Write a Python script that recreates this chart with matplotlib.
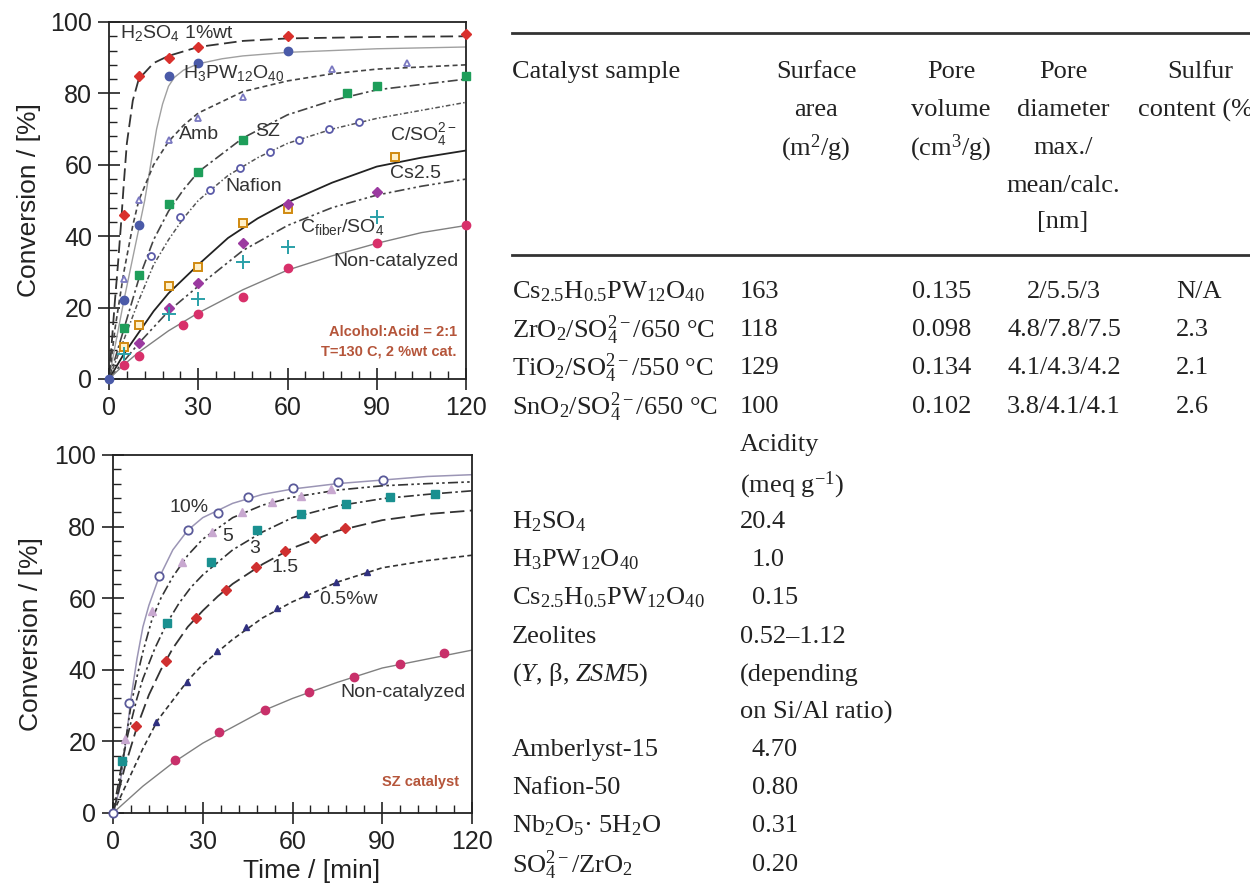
import matplotlib
matplotlib.use("Agg")
import matplotlib.pyplot as plt
from matplotlib.ticker import MultipleLocator
from matplotlib.lines import Line2D

plt.rcParams['font.family'] = ['Liberation Sans', 'DejaVu Sans']
plt.rcParams['mathtext.fontset'] = 'custom'
plt.rcParams['mathtext.rm'] = 'Liberation Serif'
plt.rcParams['mathtext.it'] = 'Liberation Serif:italic'
plt.rcParams['mathtext.default'] = 'regular'

# ---- top panel: catalyst comparison (markers = measured, curves = fits) ----
h2so4_t = [5, 10, 20, 30, 60, 120]
h2so4_y = [46, 85, 90, 93, 96, 96.5]
h2so4_fit_t = [0, 2, 3, 4, 5, 6, 8, 10, 15, 20, 30, 45, 60, 90, 120]
h2so4_fit_y = [0, 22, 32, 43, 55, 66, 78, 84, 88.5, 90.5, 93, 94.7, 95.4, 95.8, 96]

hpw_t = [0, 5, 10, 20, 30, 60]
hpw_y = [0, 22, 43, 85, 88.5, 92]
hpw_fit_t = [0, 2, 5, 8, 10, 12, 14, 16, 18, 20, 22, 25, 30, 38, 45, 60, 90, 120]
hpw_fit_y = [0, 9, 22, 34, 42, 50, 60, 70, 77, 82, 84.5, 86.5, 88.3, 89.7, 90.5, 91.5, 92.5, 93]

amb_t = [5, 10, 20, 30, 45, 75, 100]
amb_y = [28, 50, 67, 73, 79, 86.7, 88.6]
amb_fit_t = [0, 2, 5, 8, 10, 15, 20, 25, 30, 45, 60, 75, 90, 120]
amb_fit_y = [0, 14, 30, 43, 50, 60, 66.5, 71, 74.5, 80.5, 83.5, 85.5, 86.8, 88]

sz_t = [5, 10, 20, 30, 45, 80, 90, 120]
sz_y = [14.3, 29, 49, 58, 67, 80, 82, 85]
sz_fit_t = [0, 5, 10, 15, 20, 25, 30, 45, 60, 75, 90, 120]
sz_fit_y = [0, 14, 28, 39, 47, 53, 58, 67.5, 74, 78, 81, 84]

nafion_t = [14, 24, 34, 44, 54, 64, 74, 84]
nafion_y = [34.5, 45.4, 53, 59, 63.5, 67, 70, 72]
nafion_fit_t = [0, 5, 10, 15, 20, 25, 30, 40, 50, 60, 75, 90, 120]
nafion_fit_y = [0, 11, 22, 32, 39, 45, 50, 57, 62, 66, 70, 73, 77.5]

cso4_t = [5, 10, 20, 30, 45, 60, 96]
cso4_y = [9, 15, 26, 31.5, 43.7, 47.5, 62.3]
cso4_fit_t = [0, 5, 10, 15, 20, 30, 40, 50, 60, 75, 90, 105, 120]
cso4_fit_y = [0, 7, 13, 19, 24, 32, 39.5, 45, 49.5, 55, 59.5, 62, 64]

cs25_t = [10, 20, 30, 45, 60, 90]
cs25_y = [10, 20, 27, 38, 49, 52.5]
cs25_fit_t = [0, 5, 10, 15, 20, 30, 45, 60, 75, 90, 105, 120]
cs25_fit_y = [0, 5, 10, 14.5, 19, 26, 36, 43, 48, 51.5, 54, 56]

cfiber_t = [5, 20, 30, 45, 60, 90]
cfiber_y = [7, 18.2, 22.4, 32.8, 37, 45.5]

noncat_t = [5, 10, 25, 30, 45, 60, 90, 120]
noncat_y = [3.9, 6.5, 15, 18.3, 23, 31, 38.2, 43.2]
noncat_fit_t = [0, 5, 10, 20, 30, 45, 60, 75, 90, 105, 120]
noncat_fit_y = [0, 4, 7.5, 13.5, 18.5, 25, 30.5, 34.5, 38, 41, 43]

# ---- bottom panel: SZ loading ----
sz10_t = [0, 5.4, 15.4, 25, 35, 45, 60, 75.3, 90.2]
sz10_y = [0, 30.6, 66.2, 79, 83.8, 88.4, 90.8, 92.4, 92.9]
sz10_fit_t = [0, 2, 4, 6, 8, 10, 12, 15, 20, 25, 30, 40, 50, 60, 75, 90, 105, 120]
sz10_fit_y = [0, 6, 18, 32, 43, 52, 58, 65, 73.5, 79, 82.5, 86.5, 89, 90.5, 92, 93, 94, 94.5]

sz5_t = [3.9, 13.2, 22.9, 33, 43, 53, 63, 73]
sz5_y = [20.8, 56.3, 70.2, 78.6, 84.2, 87, 88.6, 90.5]
sz5_fit_t = [0, 2, 4, 6, 8, 10, 13, 16, 20, 25, 30, 40, 50, 60, 75, 90, 105, 120]
sz5_fit_y = [0, 7, 19, 30, 38, 45, 54, 60, 66, 72, 76.5, 82.5, 86, 88.2, 90.2, 91.4, 92, 92.5]

sz3_t = [3.1, 17.9, 32.6, 48, 63, 78, 92.6, 107.7]
sz3_y = [14.5, 53.2, 70, 79, 83.6, 86.4, 88.2, 89.2]
sz3_fit_t = [0, 3, 5, 8, 10, 14, 18, 22, 26, 30, 35, 40, 50, 60, 75, 90, 105, 120]
sz3_fit_y = [0, 14, 22, 32, 37.5, 46, 53, 58.5, 63, 66.5, 70, 73.5, 78.5, 82.5, 85.8, 87.8, 89, 90]

sz15_t = [7.6, 17.6, 27.6, 37.7, 47.8, 57.5, 67.5, 77.6]
sz15_y = [24.3, 42.5, 54.4, 62.3, 68.7, 73.3, 76.8, 79.6]
sz15_fit_t = [0, 4, 8, 12, 16, 20, 25, 30, 35, 40, 50, 60, 75, 90, 105, 120]
sz15_fit_y = [0, 13, 24, 33, 40, 46, 52, 56.5, 60.5, 64, 69.5, 74, 78.8, 81.8, 83.5, 84.5]

sz05_t = [14.5, 24.6, 34.6, 44.6, 54.7, 64.5, 74.6, 84.8]
sz05_y = [25.5, 36.7, 45.3, 51.9, 57.2, 61.2, 64.4, 67.2]
sz05_fit_t = [0, 5, 10, 15, 20, 25, 30, 40, 50, 60, 75, 90, 105, 120]
sz05_fit_y = [0, 9, 18, 26, 31.5, 37, 41.5, 48.5, 54.5, 59, 64.5, 68.5, 70.5, 72]

nc2_t = [20.6, 35.5, 50.8, 65.6, 80.7, 95.8, 110.5]
nc2_y = [14.7, 22.5, 28.7, 33.9, 37.9, 41.6, 44.6]
nc2_fit_t = [0, 10, 20, 30, 40, 50, 60, 75, 90, 105, 120]
nc2_fit_y = [0, 7.5, 14, 19.5, 24, 28.5, 32, 36.5, 40.5, 43, 45.5]

# ---- table ----
head_cols = [["Surface", "area", "(m$^2$/g)"],
             ["Pore", "volume", "(cm$^3$/g)"],
             ["Pore", "diameter", "max./", "mean/calc.", "[nm]"],
             ["Sulfur", "content (%)"]]
samples = ["Cs$_{2.5}$H$_{0.5}$PW$_{12}$O$_{40}$", "ZrO$_2$/SO$_4^{2-}$/650 °C",
           "TiO$_2$/SO$_4^{2-}$/550 °C", "SnO$_2$/SO$_4^{2-}$/650 °C"]
surface = ["163", "118", "129", "100"]
pore_vol = ["0.135", "0.098", "0.134", "0.102"]
pore_diam = ["2/5.5/3", "4.8/7.8/7.5", "4.1/4.3/4.2", "3.8/4.1/4.1"]
sulfur = ["N/A", "2.3", "2.1", "2.6"]

acid_names = ["H$_2$SO$_4$", "H$_3$PW$_{12}$O$_{40}$", "Cs$_{2.5}$H$_{0.5}$PW$_{12}$O$_{40}$",
              "Zeolites", "($\\mathit{Y}$, β, $\\mathit{ZSM5}$)", "",
              "Amberlyst-15", "Nafion-50", "Nb$_2$O$_5$· 5H$_2$O", "SO$_4^{2-}$/ZrO$_2$"]
acid_vals = ["20.4", "1.0", "0.15", "0.52–1.12", "(depending", "on Si/Al ratio)",
             "4.70", "0.80", "0.31", "0.20"]

W, H = 1250, 894
fig = plt.figure(figsize=(12.5, 8.94), dpi=100)
fig.patch.set_facecolor('white')


def px(x, y):
    return x / W, 1 - y / H


def style_axes(ax):
    ax.set_xlim(0, 120)
    ax.set_ylim(0, 100)
    ax.xaxis.set_major_locator(MultipleLocator(30))
    ax.xaxis.set_minor_locator(MultipleLocator(6))
    ax.yaxis.set_major_locator(MultipleLocator(20))
    ax.yaxis.set_minor_locator(MultipleLocator(4))
    ax.tick_params(which='major', direction='inout', length=16, width=1.2,
                   labelsize=18, pad=4, colors='#222')
    ax.tick_params(which='minor', direction='in', length=6, width=1.0, colors='#222')
    ax.tick_params(which='both', top=False, right=False)
    for sp in ax.spines.values():
        sp.set_linewidth(1.3)
        sp.set_color('#222')
    ax.set_ylabel("Conversion / [%]", fontsize=19, color='#222')


def pts(ax, t, y, marker, color, filled=True, ms=6):
    face = color if filled else 'white'
    ax.plot(t, y, linestyle='none', marker=marker, ms=ms, mfc=face, mec=color,
            mew=1.0 if filled else 1.3, zorder=3, clip_on=False)


# top panel
ax1 = fig.add_axes([109 / W, 1 - 379 / H, 357 / W, 357 / H])
style_axes(ax1)
ax1.yaxis.set_label_coords(-0.19, 0.5)

ax1.plot(h2so4_fit_t, h2so4_fit_y, color='#333', lw=1.3, dashes=(7, 3))
ax1.plot(hpw_fit_t, hpw_fit_y, color='#a0a0a0', lw=1.0)
ax1.plot(amb_fit_t, amb_fit_y, color='#444', lw=1.2, dashes=(3, 2))
ax1.plot(sz_fit_t, sz_fit_y, color='#444', lw=1.2, dashes=(6, 2, 1.5, 2))
ax1.plot(nafion_fit_t, nafion_fit_y, color='#555', lw=1.1, dashes=(3, 1.5, 1, 1.5))
ax1.plot(cso4_fit_t, cso4_fit_y, color='#222', lw=1.3)
ax1.plot(cs25_fit_t, cs25_fit_y, color='#444', lw=1.2, dashes=(6, 2, 1.5, 2, 1.5, 2))
ax1.plot(noncat_fit_t, noncat_fit_y, color='#808080', lw=1.0)

pts(ax1, h2so4_t, h2so4_y, 'D', '#d9302c', ms=5)
pts(ax1, hpw_t, hpw_y, 'o', '#4a5aa8', ms=6)
pts(ax1, amb_t, amb_y, '^', '#7a78c0', filled=False, ms=5)
pts(ax1, sz_t, sz_y, 's', '#1e9e5a', ms=6)
pts(ax1, nafion_t, nafion_y, 'o', '#5a5aa8', filled=False, ms=5)
ax1.plot(cso4_t, cso4_y, linestyle='none', marker='s', ms=6, mfc='#fff0c8',
         mec='#d08a10', mew=1.4, zorder=3, clip_on=False)
pts(ax1, cs25_t, cs25_y, 'D', '#9b3aa0', ms=5)
ax1.plot(cfiber_t, cfiber_y, linestyle='none', marker='+', ms=10, mec='#2aa0a8',
         mew=1.4, zorder=3)
pts(ax1, noncat_t, noncat_y, 'o', '#d8306a', ms=6)

lab = dict(fontsize=14, color='#333', va='center', ha='left')
ax1.text(3.8, 96.8, "H$_2$SO$_4$ 1%wt", **lab)
ax1.text(25, 85.6, "H$_3$PW$_{12}$O$_{40}$", **lab)
ax1.text(23.4, 68.4, "Amb", **lab)
ax1.text(49.2, 69.3, "SZ", **lab)
ax1.text(94.3, 68.5, "C/SO$_4^{2-}$", **lab)
ax1.text(39, 53.9, "Nafion", **lab)
ax1.text(94.5, 57.6, "Cs2.5", **lab)
ax1.text(64.3, 42.7, "C$_{fiber}$/SO$_4$", **lab)
ax1.text(75.5, 32.9, "Non-catalyzed", **lab)
note = dict(fontsize=10.5, color='#b5553a', fontweight='bold', ha='right', va='center')
ax1.text(116.9, 13.3, "Alcohol:Acid = 2:1", **note)
ax1.text(116.9, 7.7, "T=130 C, 2 %wt cat.", **note)

# bottom panel
ax2 = fig.add_axes([113 / W, 1 - 813 / H, 359 / W, 358 / H])
style_axes(ax2)
ax2.yaxis.set_label_coords(-0.195, 0.5)
fig.text(*px(312, 871), "Time / [min]", fontsize=19, color='#222',
         ha='center', va='center')

ax2.plot(sz10_fit_t, sz10_fit_y, color='#9b95b5', lw=1.1)
ax2.plot(sz5_fit_t, sz5_fit_y, color='#333', lw=1.2, dashes=(6, 2, 1.5, 2, 1.5, 2))
ax2.plot(sz3_fit_t, sz3_fit_y, color='#333', lw=1.2, dashes=(6, 2, 1.5, 2))
ax2.plot(sz15_fit_t, sz15_fit_y, color='#333', lw=1.3, dashes=(8, 3))
ax2.plot(sz05_fit_t, sz05_fit_y, color='#333', lw=1.2, dashes=(3, 2))
ax2.plot(nc2_fit_t, nc2_fit_y, color='#808080', lw=1.0)

pts(ax2, sz10_t, sz10_y, 'o', '#5a5a9a', filled=False, ms=6)
pts(ax2, sz5_t, sz5_y, '^', '#c8a8d0', ms=6)
pts(ax2, sz3_t, sz3_y, 's', '#1a9090', ms=6)
pts(ax2, sz15_t, sz15_y, 'D', '#d03030', ms=5)
pts(ax2, sz05_t, sz05_y, '^', '#303080', ms=5)
pts(ax2, nc2_t, nc2_y, 'o', '#c8306a', ms=6)

ax2.text(19, 85.2, "10%", **lab)
ax2.text(36.6, 77.2, "5", **lab)
ax2.text(45.5, 74, "3", **lab)
ax2.text(53, 68.7, "1.5", **lab)
ax2.text(69, 59.7, "0.5%w", **lab)
ax2.text(76.1, 33.6, "Non-catalyzed", **lab)
ax2.text(115.8, 8.7, "SZ catalyst", **note)

# table
serif = dict(family='Liberation Serif', fontsize=19, color='#222', va='center')
fig.add_artist(Line2D([512 / W, 1.0], [1 - 33 / H] * 2, color='#333', lw=2))
fig.add_artist(Line2D([512 / W, 1.0], [1 - 255 / H] * 2, color='#333', lw=2))

head_y = [72, 110, 148, 186, 222]
head_x = [816, 951, 1063, 1200]
fig.text(*px(512, head_y[0]), "Catalyst sample", ha='left', **serif)
for cx, lines in zip(head_x, head_cols):
    for yy, s in zip(head_y, lines):
        fig.text(*px(cx, yy), s, ha='center', **serif)

row_y = [292, 330, 368, 407]
for i, yy in enumerate(row_y):
    fig.text(*px(512, yy), samples[i], ha='left', **serif)
    fig.text(*px(740, yy), surface[i], ha='left', **serif)
    fig.text(*px(942, yy), pore_vol[i], ha='center', **serif)
    fig.text(*px(1064, yy), pore_diam[i], ha='center', **serif)
    fig.text(*px(1176, yy), sulfur[i], ha='left', **serif)

fig.text(*px(740, 445), "Acidity", ha='left', **serif)
fig.text(*px(740, 485), "(meq g$^{-1}$)", ha='left', **serif)
acid_y = [522, 560, 598, 637, 675, 712, 750, 788, 826, 865]
acid_x = [740, 752, 752, 740, 740, 740, 752, 752, 752, 752]
for name, val, yy, vx in zip(acid_names, acid_vals, acid_y, acid_x):
    if name:
        fig.text(*px(512, yy), name, ha='left', **serif)
    fig.text(*px(vx, yy), val, ha='left', **serif)

fig.savefig("out.png", dpi=100, facecolor='white')
